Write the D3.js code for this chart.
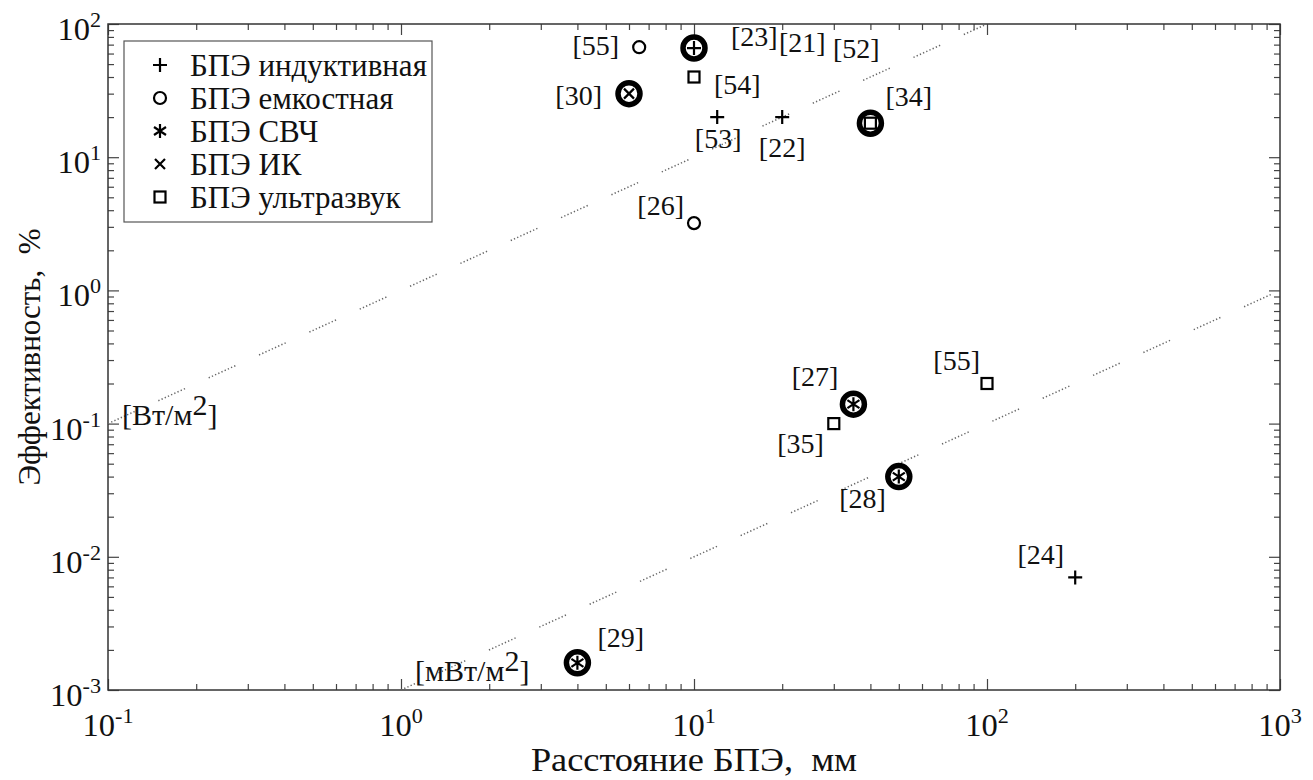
<!DOCTYPE html>
<html>
<head>
<meta charset="utf-8">
<script src="https://cdn.jsdelivr.net/npm/d3@7"></script>
<style>
  body { margin: 0; background: white; }
  text { font-family: "Liberation Serif", Tinos, "Times New Roman", Times, serif; fill: #111; }
</style>
</head>
<body>
<div id="container"></div>
<script>
let w = 1313;
let h = 780;
let plotLeft = 108, plotRight = 1280, plotTop = 24, plotBottom = 690;

// data
let refs   = ["[55]", "[23]", "[54]", "[30]", "[53]", "[22]", "[34]", "[26]", "[27]", "[35]", "[55]", "[28]", "[24]", "[29]"];
let distMm = [6.5, 10, 10, 6, 12, 20, 40, 10, 35, 30, 100, 50, 200, 4];
let effPct = [67, 66, 40, 30, 20, 20, 18, 3.2, 0.14, 0.1, 0.2, 0.04, 0.007, 0.0016];
let kinds  = ["cap", "ind", "us", "ir", "ind", "ind", "us", "cap", "mw", "us", "us", "mw", "ind", "mw"];
let bold   = [false, true, false, true, false, false, true, false, true, false, false, true, false, true];
let extraRefs = ["[21]", "[52]"]; // same point as [23]

let legendKinds = ["ind", "cap", "mw", "ir", "us"];
let legendNames = ["БПЭ индуктивная", "БПЭ емкостная", "БПЭ СВЧ", "БПЭ ИК", "БПЭ ультразвук"];

let xDecades = [0.1, 1, 10, 100, 1000];
let xExps = ["-1", "0", "1", "2", "3"];
let yDecades = [0.001, 0.01, 0.1, 1, 10, 100];
let yExps = ["-3", "-2", "-1", "0", "1", "2"];

// power density guide lines (efficiency vs distance)
let guideWm2X = [0.1, 100], guideWm2Y = [0.1, 100];
let guideMWm2X = [1, 1000], guideMWm2Y = [0.001, 1];

// label placement in pixels: [dx, dy, anchor]
let labelPos = [
  [-20, 8, "end"], [37, -2, "start"], [20, 17, "start"], [-27, 11, "end"],
  [1, 31, "middle"], [0, 40, "middle"], [15, -17, "start"], [-10, -8, "end"],
  [-15, -18, "end"], [-10, 29, "end"], [-7, -14, "end"], [-13, 31, "end"],
  [-11, -13, "end"], [20, -16, "start"]
];
let extraPos = [[85, 4, "start"], [139, 10, "start"]];

let viz = d3.select("#container")
  .append("svg")
    .attr("width", w)
    .attr("height", h)
    .style("background-color", "white")
;

let x = d3.scaleLog().domain([0.1, 1000]).range([plotLeft, plotRight]);
let y = d3.scaleLog().domain([0.001, 100]).range([plotBottom, plotTop]);

function addText(parent, px, py, size, anchor, sx){
  let t = parent.append("text")
    .attr("transform", "translate(" + px + "," + py + ") scale(" + (sx || 1) + ",1)")
    .attr("font-size", size)
    .attr("text-anchor", anchor || "start");
  return t;
}

function powText(t, exp, size){
  t.append("tspan").text("10");
  t.append("tspan").attr("dy", -size * 0.42).attr("font-size", size * 0.68).text(exp);
}

// ticks
function minors(decades){
  let out = [];
  decades.slice(0, -1).forEach(function(d){
    for (let k = 2; k <= 9; k++) out.push(d * k);
  });
  return out;
}

function tickAxis(axisFn, scale, values, size, tx, ty){
  let g = viz.append("g")
    .attr("transform", "translate(" + tx + "," + ty + ")")
    .call(axisFn(scale).tickValues(values).tickSizeInner(-size).tickSizeOuter(0).tickFormat(""));
  g.select(".domain").remove();
  g.selectAll("line").attr("stroke", "#444").attr("stroke-width", 1.2);
}

tickAxis(d3.axisBottom, x, xDecades, 11, 0, plotBottom);
tickAxis(d3.axisBottom, x, minors(xDecades), 6, 0, plotBottom);
tickAxis(d3.axisTop, x, xDecades, 11, 0, plotTop);
tickAxis(d3.axisTop, x, minors(xDecades), 6, 0, plotTop);
tickAxis(d3.axisLeft, y, yDecades, 11, plotLeft, 0);
tickAxis(d3.axisLeft, y, minors(yDecades), 6, plotLeft, 0);
tickAxis(d3.axisRight, y, yDecades, 11, plotRight, 0);
tickAxis(d3.axisRight, y, minors(yDecades), 6, plotRight, 0);

viz.append("rect") // frame
  .attr("x", plotLeft)
  .attr("y", plotTop)
  .attr("width", plotRight - plotLeft)
  .attr("height", plotBottom - plotTop)
  .style("fill", "none")
  .style("stroke", "#333")
  .style("stroke-width", 1.5)
;

// tick labels
xDecades.forEach(function(d, i){
  let t = addText(viz, x(d), 736, 31, "middle", 1.05);
  powText(t, xExps[i], 31);
});
yDecades.forEach(function(d, i){
  let t = addText(viz, plotLeft - 7, y(d) + 16, 31, "end", 1.05);
  powText(t, yExps[i], 31);
});

// guide lines
let dash = "1.3,2.2,1.3,2.2,1.3,2.2,1.3,2.2,1.3,2.2,1.3,2.2,1.3,2.2,1.3,2.2,1.3,26";
viz.append("line")
  .attr("x1", x(guideWm2X[0])).attr("y1", y(guideWm2Y[0]))
  .attr("x2", x(guideWm2X[1])).attr("y2", y(guideWm2Y[1]))
  .style("stroke", "#666")
  .style("stroke-width", 1.5)
  .style("stroke-dasharray", dash)
;
viz.append("line")
  .attr("x1", x(guideMWm2X[0])).attr("y1", y(guideMWm2Y[0]))
  .attr("x2", x(guideMWm2X[1])).attr("y2", y(guideMWm2Y[1]))
  .style("stroke", "#666")
  .style("stroke-width", 1.5)
  .style("stroke-dasharray", dash)
  .style("stroke-dashoffset", 14)
;

let u1 = addText(viz, x(guideWm2X[0]) + 14, y(guideWm2Y[0]) + 1, 30, "start");
u1.append("tspan").text("[Вт/м");
u1.append("tspan").attr("dy", -10).text("2");
u1.append("tspan").attr("dy", 10).text("]");
let u2 = addText(viz, x(guideMWm2X[0]) + 14, y(guideMWm2Y[0]) - 9, 30, "start");
u2.append("tspan").text("[мВт/м");
u2.append("tspan").attr("dy", -10).text("2");
u2.append("tspan").attr("dy", 10).text("]");

// markers
function drawMarker(g, kind, lw){
  if (kind == "ind"){
    g.append("path").attr("d", "M -7 0 H 7 M 0 -7 V 7");
  } else if (kind == "cap"){
    g.append("circle").attr("r", 6);
  } else if (kind == "mw"){
    g.append("path").attr("d", "M 0 -7 V 7 M -6 -4 L 6 4 M -6 4 L 6 -4");
  } else if (kind == "ir"){
    g.append("path").attr("d", "M -5 -5 L 5 5 M -5 5 L 5 -5");
  } else if (kind == "us"){
    g.append("rect").attr("x", -5.5).attr("y", -5.5).attr("width", 11).attr("height", 11);
  }
  g.selectAll("*")
    .style("fill", "none")
    .style("stroke", "#000")
    .style("stroke-width", lw);
}

let points = viz.selectAll(".pt").data(refs).enter()
  .append("g")
    .attr("class", "pt")
    .attr("transform", function(d, i){ return "translate(" + x(distMm[i]) + "," + y(effPct[i]) + ")"; })
;
points.each(function(d, i){
  let g = d3.select(this);
  if (bold[i]){
    g.append("circle")
      .attr("r", 11)
      .style("fill", "white")
      .style("stroke", "#000")
      .style("stroke-width", 5.5);
  }
  drawMarker(g.append("g"), kinds[i], 2.2);
  let lp = labelPos[i];
  addText(g, lp[0], lp[1], 28, lp[2]).text(d);
});

// extra references on the [23] point
extraRefs.forEach(function(r, j){
  let lp = extraPos[j];
  addText(viz, x(distMm[1]) + lp[0], y(effPct[1]) + lp[1], 28, lp[2]).text(r);
});

// legend
let legend = viz.append("g").attr("class", "legend");
legend.append("rect")
  .attr("x", 124)
  .attr("y", 41)
  .attr("width", 308)
  .attr("height", 181)
  .style("fill", "white")
  .style("stroke", "#555")
  .style("stroke-width", 1.2)
;
legendNames.forEach(function(name, i){
  let m = legend.append("g").attr("transform", "translate(160," + (65 + i * 33) + ")");
  drawMarker(m, legendKinds[i], 2.2);
  addText(legend, 190, 76 + i * 33, 31, "start").text(name);
});

// axis titles
addText(viz, (plotLeft + plotRight) / 2, 771, 33, "middle", 1.1).text("Расстояние БПЭ,\u00a0\u00a0мм");
viz.append("text")
  .attr("transform", "translate(40," + ((plotTop + plotBottom) / 2) + ") rotate(-90)")
  .attr("font-size", 31)
  .attr("text-anchor", "middle")
  .text("Эффективность,\u00a0\u00a0%")
;
</script>
</body>
</html>
